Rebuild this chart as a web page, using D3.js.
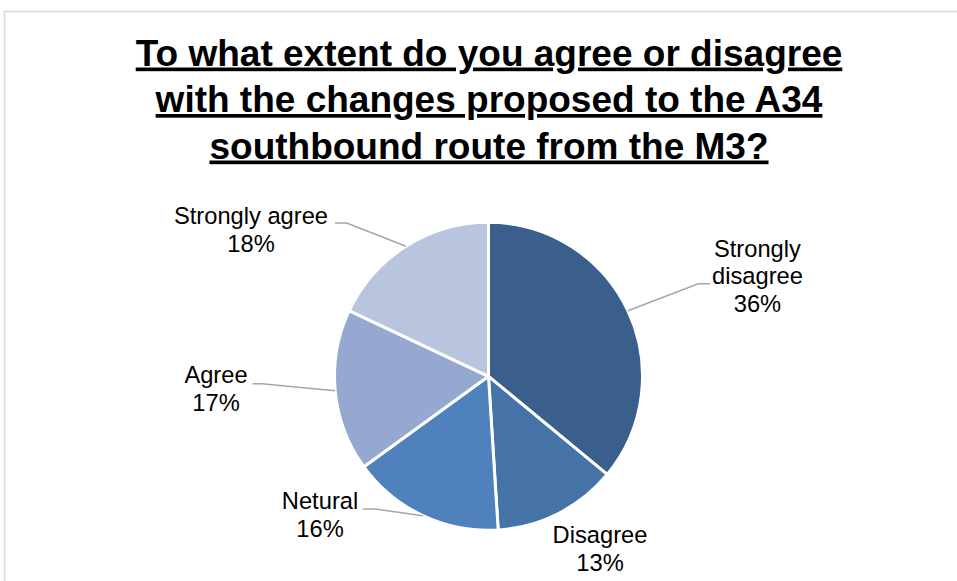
<!DOCTYPE html>
<html>
<head>
<meta charset="utf-8">
<script src="https://cdn.jsdelivr.net/npm/d3@7"></script>
<style>
  html, body { margin: 0; padding: 0; background: #ffffff; }
  svg { display: block; }
  text { font-family: "Liberation Sans", Arial, sans-serif; }
</style>
</head>
<body>
<script>
// Survey responses, drawn clockwise from 12 o'clock
const categories = ["Strongly disagree", "Disagree", "Netural", "Agree", "Strongly agree"];
const values = [36, 13, 16, 17, 18];
const labelLines = [["Strongly", "disagree"], ["Disagree"], ["Netural"], ["Agree"], ["Strongly agree"]];
const colors = ["#3b5f8c", "#4573a8", "#4f81bd", "#95a9d0", "#b9c5df"];
const titleLines = [
  "To what extent do you agree or disagree",
  "with the changes proposed to the A34",
  "southbound route from the M3?"
];

// Label placement relative to each slice's outer mid-point:
// text = centre x / first baseline; elbow and end = leader line bends
const labelLayout = [
  { text: [129.6, -54], elbow: [70.4, -26.9], end: [82.1, -26.9] },
  { text: [41.6, 29.8], elbow: null, end: null },
  { text: [-102.9, -6.6], elbow: [-47.9, -6.6], end: [-60.2, -6.6] },
  { text: [-119.2, -7.7], elbow: [-73.5, -7], end: [-82.5, -7] },
  { text: [-155, -22.2], elbow: [-59.3, -23.2], end: [-71, -23.2] }
];

const W = 957, H = 581;
const cx = 488.5, cy = 376.3, R = 154;

const svg = d3.select("body").append("svg")
  .attr("width", W).attr("height", H);

// chart area frame
svg.append("rect")
  .attr("x", 4.5).attr("y", 11.5)
  .attr("width", 1000).attr("height", 1000)
  .attr("fill", "none")
  .attr("stroke", "#d9d9d9")
  .attr("stroke-width", 1.5);

// title
const title = svg.append("text")
  .attr("text-anchor", "middle")
  .attr("font-size", 37)
  .attr("font-weight", "bold")
  .attr("fill", "#000")
  .style("text-decoration", "underline");
titleLines.forEach((t, i) => {
  title.append("tspan")
    .attr("x", 489)
    .attr("y", 65.5 + i * 46.5)
    .text(t);
});

const data = categories.map((c, i) => ({ category: c, value: values[i], lines: labelLines[i], color: colors[i], layout: labelLayout[i] }));

const pie = d3.pie().sort(null).value(d => d.value);
const arc = d3.arc().innerRadius(0).outerRadius(R);
const arcs = pie(data);

const g = svg.append("g").attr("transform", `translate(${cx},${cy})`);

g.selectAll("path.slice")
  .data(arcs)
  .join("path")
  .attr("class", "slice")
  .attr("d", arc)
  .attr("fill", d => d.data.color)
  .attr("stroke", "#ffffff")
  .attr("stroke-width", 3)
  .attr("stroke-linejoin", "round");

// outer mid-point of each slice
function edgePoint(d) {
  const a = (d.startAngle + d.endAngle) / 2;
  return [R * Math.sin(a), -R * Math.cos(a)];
}

// leader lines
g.selectAll("polyline.leader")
  .data(arcs.filter(d => d.data.layout.elbow))
  .join("polyline")
  .attr("class", "leader")
  .attr("fill", "none")
  .attr("stroke", "#a6a6a6")
  .attr("stroke-width", 1.5)
  .attr("points", d => {
    const [ex, ey] = edgePoint(d);
    const L = d.data.layout;
    return [[ex, ey], [ex + L.elbow[0], ey + L.elbow[1]], [ex + L.end[0], ey + L.end[1]]]
      .map(p => p.join(",")).join(" ");
  });

// data labels
const labels = g.selectAll("text.label")
  .data(arcs)
  .join("text")
  .attr("class", "label")
  .attr("text-anchor", "middle")
  .attr("font-size", 23.7)
  .attr("fill", "#000");

labels.each(function (d) {
  const [ex, ey] = edgePoint(d);
  const L = d.data.layout;
  const x = ex + L.text[0], y0 = ey + L.text[1];
  const lines = d.data.lines.concat([Math.round(d.value) + "%"]);
  const t = d3.select(this);
  lines.forEach((s, i) => {
    t.append("tspan").attr("x", x).attr("y", y0 + i * 27.5).text(s);
  });
});
</script>
</body>
</html>
